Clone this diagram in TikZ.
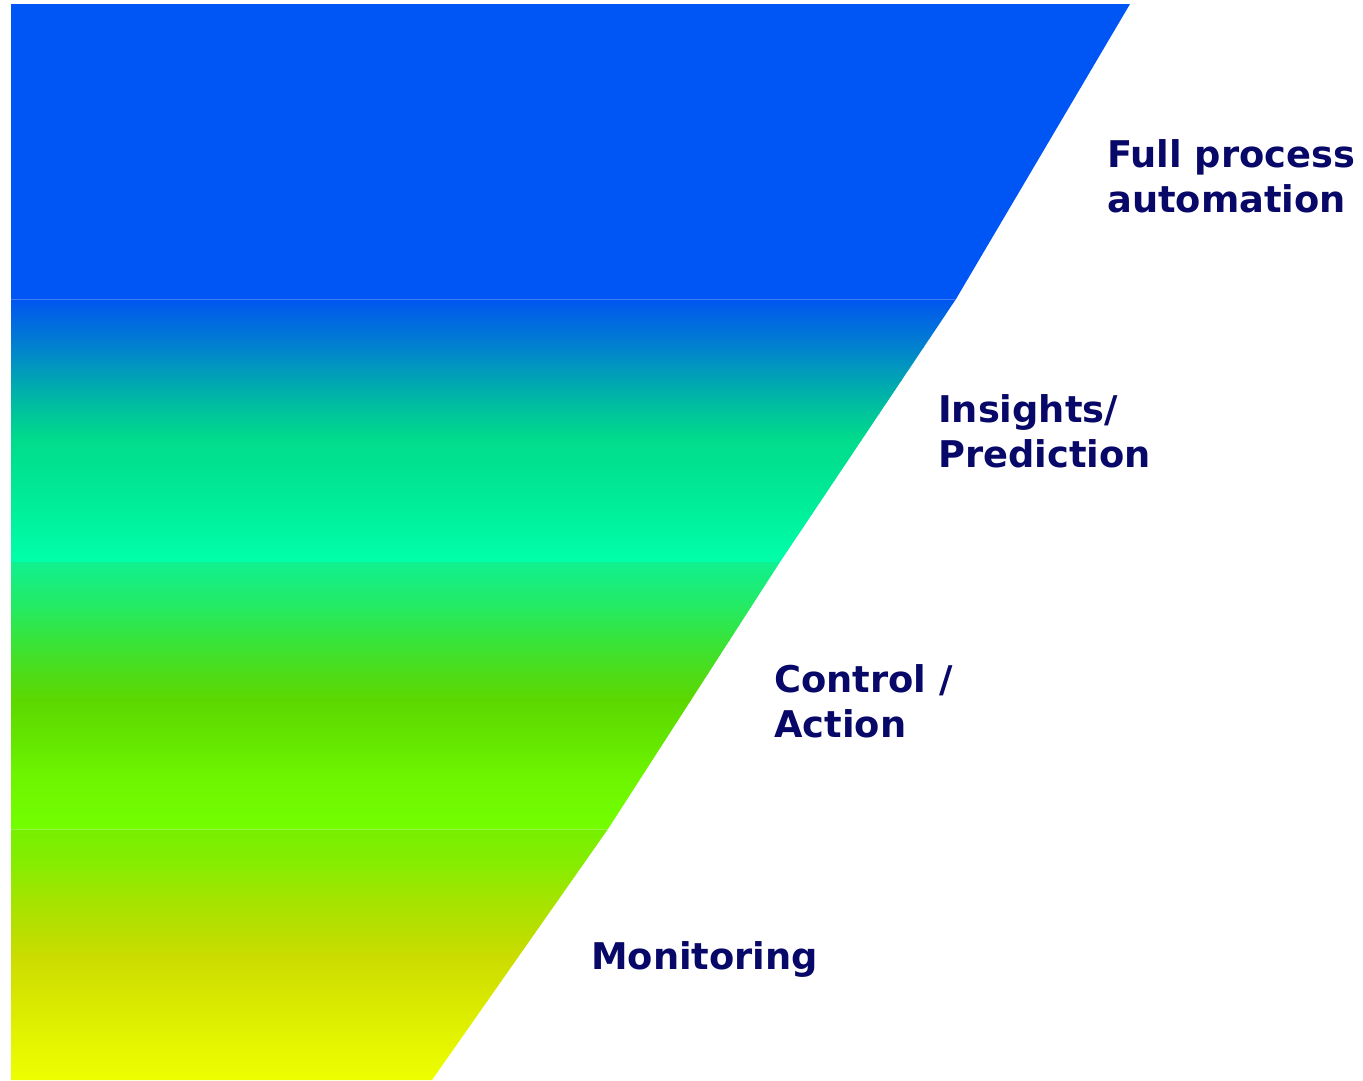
\documentclass[tikz,border=0pt]{standalone}
\usepackage{fontspec}
\setmainfont{DejaVu Sans}
\definecolor{txtnavy}{RGB}{8,8,104}
\definecolor{bA}{RGB}{0,85,245}
\definecolor{b2a}{RGB}{0,85,240}
\definecolor{b2b}{RGB}{2,130,206}
\definecolor{b2c}{RGB}{0,165,179}
\definecolor{b2d}{RGB}{0,197,154}
\definecolor{b2e}{RGB}{0,220,140}
\definecolor{b2f}{RGB}{0,230,148}
\definecolor{b2g}{RGB}{0,240,156}
\definecolor{b2h}{RGB}{0,255,170}
\definecolor{b3a}{RGB}{16,240,144}
\definecolor{b3b}{RGB}{37,234,98}
\definecolor{b3c}{RGB}{56,228,58}
\definecolor{b3d}{RGB}{78,220,24}
\definecolor{b3e}{RGB}{92,216,0}
\definecolor{b3f}{RGB}{100,230,0}
\definecolor{b3g}{RGB}{108,244,0}
\definecolor{b3h}{RGB}{116,255,0}
\definecolor{b4a}{RGB}{118,240,0}
\definecolor{b4b}{RGB}{136,236,0}
\definecolor{b4c}{RGB}{165,228,0}
\definecolor{b4d}{RGB}{186,222,0}
\definecolor{b4e}{RGB}{204,220,0}
\definecolor{b4f}{RGB}{216,232,0}
\definecolor{b4g}{RGB}{226,242,0}
\definecolor{b4h}{RGB}{238,255,0}
\tikzset{
  lbl/.style={anchor=base west, inner sep=0pt, align=left, text=txtnavy,
    font=\fontsize{36.8}{44.5}\selectfont\bfseries},
  seam/.style={draw=white, draw opacity=0.25, line width=1pt}
}
\begin{document}
\begin{tikzpicture}[x=1pt,y=-1pt]
\useasboundingbox (0,0) rectangle (1363,1080);
% corner coordinates
\coordinate (l0) at (11,4);    \coordinate (r0) at (1130,4);
\coordinate (l1) at (11,299);  \coordinate (r1) at (956,299);
\coordinate (l2) at (11,562);  \coordinate (r2) at (780,562);
\coordinate (l3) at (11,829);  \coordinate (r3) at (608,829);
\coordinate (l4) at (11,1080); \coordinate (r4) at (432,1080);
% band 1
\fill[bA] (l0) -- (r0) -- (r1) -- (l1) -- cycle;
% band 2
\begin{scope}
\clip (l1) -- (r1) -- (r2) -- (l2) -- cycle;
\shade[top color=b2a, bottom color=b2b] (0,298.5) rectangle (1140,347.5);
\shade[top color=b2b, bottom color=b2c] (0,347) rectangle (1140,380.5);
\shade[top color=b2c, bottom color=b2d] (0,380) rectangle (1140,413.5);
\shade[top color=b2d, bottom color=b2e] (0,413) rectangle (1140,440.5);
\shade[top color=b2e, bottom color=b2f] (0,440) rectangle (1140,480.5);
\shade[top color=b2f, bottom color=b2g] (0,480) rectangle (1140,513.5);
\shade[top color=b2g, bottom color=b2h] (0,513) rectangle (1140,562.5);
\end{scope}
% band 3
\begin{scope}
\clip (l2) -- (r2) -- (r3) -- (l3) -- cycle;
\shade[top color=b3a, bottom color=b3b] (0,561.5) rectangle (1140,607.5);
\shade[top color=b3b, bottom color=b3c] (0,607) rectangle (1140,640.5);
\shade[top color=b3c, bottom color=b3d] (0,640) rectangle (1140,673.5);
\shade[top color=b3d, bottom color=b3e] (0,673) rectangle (1140,700.5);
\shade[top color=b3e, bottom color=b3f] (0,700) rectangle (1140,740.5);
\shade[top color=b3f, bottom color=b3g] (0,740) rectangle (1140,773.5);
\shade[top color=b3g, bottom color=b3h] (0,773) rectangle (1140,829.5);
\end{scope}
% band 4
\begin{scope}
\clip (l3) -- (r3) -- (r4) -- (l4) -- cycle;
\shade[top color=b4a, bottom color=b4b] (0,828.5) rectangle (1140,867.5);
\shade[top color=b4b, bottom color=b4c] (0,867) rectangle (1140,900.5);
\shade[top color=b4c, bottom color=b4d] (0,900) rectangle (1140,933.5);
\shade[top color=b4d, bottom color=b4e] (0,933) rectangle (1140,957.5);
\shade[top color=b4e, bottom color=b4f] (0,957) rectangle (1140,1000.5);
\shade[top color=b4f, bottom color=b4g] (0,1000) rectangle (1140,1033.5);
\shade[top color=b4g, bottom color=b4h] (0,1033) rectangle (1140,1081);
\end{scope}
% faint seams between bands
\path[seam] (l1) -- (r1);
\path[seam] (l3) -- (r3);
% labels (base = baseline of the last line)
\node[lbl] (full) at (1107,212) {Full process\\automation};
\node[lbl] (ins) at (938,467) {Insights/\\Prediction};
\node[lbl] (ctl) at (774,737) {Control /\\Action};
\node[lbl] (mon) at (591,969) {Monitoring};
\end{tikzpicture}
\end{document}
